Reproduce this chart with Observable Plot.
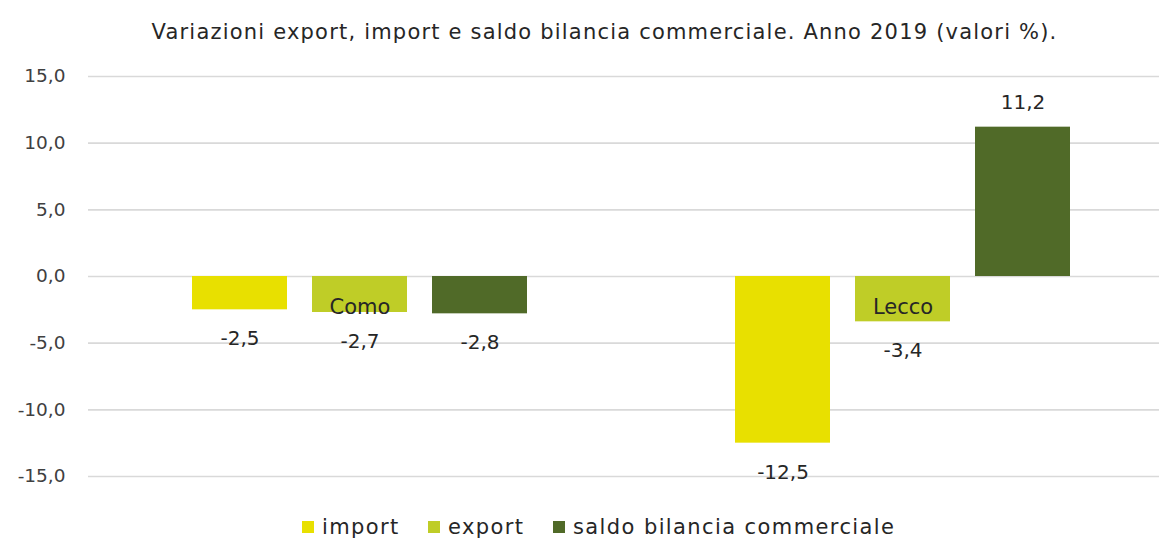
<!DOCTYPE html>
<html><head><meta charset="utf-8">
<script src="https://cdn.jsdelivr.net/npm/d3@7"></script>
<script src="https://cdn.jsdelivr.net/npm/@observablehq/plot@0.6"></script>
<style>
body{margin:0;background:#fff;overflow:hidden;font-family:"DejaVu Sans",sans-serif}
#wrap{position:relative;width:1159px;height:539px;overflow:hidden;background:#fff}
#title{position:absolute;top:20px;left:0;width:1209px;text-align:center;font-size:21px;letter-spacing:1.2px;color:#262626;white-space:nowrap}
#chart{position:absolute;top:60px;left:0;width:1174px}
#chart svg{max-width:none !important}
#legend{position:absolute;top:514px;left:0;width:1159px;height:25px;font-size:21px;letter-spacing:1.4px;color:#262626;white-space:nowrap}
#legend .it{position:absolute;top:0;display:flex;align-items:center;height:25px}
#legend .sw{width:12px;height:12px;margin-right:8px}
</style></head>
<body><div id="wrap"><div id="title">Variazioni export, import e saldo bilancia commerciale. Anno 2019 (valori %).</div><div id="chart"></div><div id="legend"></div></div>
<script>
const cities = ["Como", "Lecco"];
const series = ["import", "export", "saldo bilancia commerciale"];
const importVals = [-2.5, -12.5];
const exportVals = [-2.7, -3.4];
const saldoVals = [-2.8, 11.2];
const yTicks = [-15, -10, -5, 0, 5, 10, 15];
const colors = ["#E8E000", "#BFCD27", "#506A28"];

const valueSets = [importVals, exportVals, saldoVals];
const rows = [];
cities.forEach((c, i) => series.forEach((s, j) => rows.push({city: c, series: s, value: valueSets[j][i]})));
const fmt = v => v.toFixed(1).replace(".", ",");

const chart = Plot.plot({
  width: 1174, height: 430,
  marginLeft: 87, marginRight: 0, marginTop: 16, marginBottom: 14,
  style: {fontFamily: "DejaVu Sans, sans-serif", fontSize: "20px", color: "#404040", background: "white", maxWidth: "none"},
  fx: {domain: cities, padding: 0, axis: null},
  x: {domain: series, paddingInner: 0.2083, paddingOuter: 0.865, axis: null},
  y: {domain: [-15, 15], label: null},
  color: {domain: series, range: colors},
  marks: [
    Plot.gridY(yTicks, {stroke: "#d9d9d9", strokeOpacity: 1, strokeWidth: 1.6}),
    Plot.axisY(yTicks, {tickSize: 0, tickPadding: 23, tickFormat: fmt, fill: "#404040", fontSize: 18.5}),
    Plot.barY(rows, {fx: "city", x: "series", y: "value", fill: "series"}),
    Plot.text(rows.filter(d => d.value < 0), {fx: "city", x: "series", y: "value", text: d => fmt(d.value), dy: 29, fontSize: 20, fill: "#262626"}),
    Plot.text(rows.filter(d => d.value >= 0), {fx: "city", x: "series", y: "value", text: d => fmt(d.value), dy: -25, fontSize: 20, fill: "#262626"}),
    Plot.text(cities, {fx: d => d, y: d => 0, text: d => d, dy: 31, fontSize: 21, fill: "#262626"})
  ]
});
document.getElementById("chart").appendChild(chart);

const legendLeft = [302, 428, 553];
const leg = document.getElementById("legend");
series.forEach((s, i) => {
  const it = document.createElement("div"); it.className = "it"; it.style.left = legendLeft[i] + "px";
  const sw = document.createElement("div"); sw.className = "sw"; sw.style.background = colors[i];
  const t = document.createElement("span"); t.textContent = s;
  it.appendChild(sw); it.appendChild(t); leg.appendChild(it);
});
</script></body></html>
